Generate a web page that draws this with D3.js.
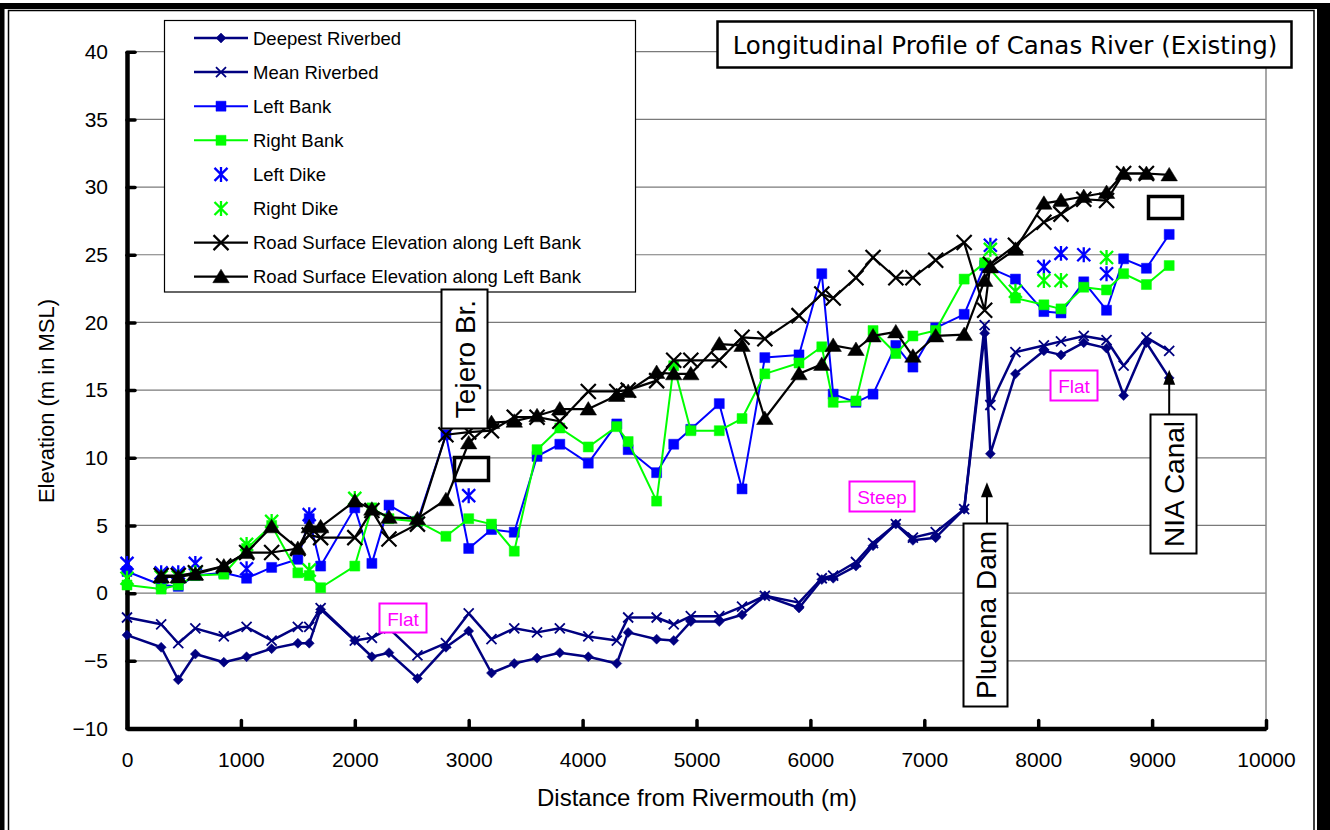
<!DOCTYPE html>
<html>
<head>
<meta charset="utf-8">
<script src="https://cdn.jsdelivr.net/npm/d3@7"></script>
<style>
  body { margin: 0; background: #fff; }
  svg text { font-family: "Liberation Sans", Arial, sans-serif; }
</style>
</head>
<body>
<script>
// stations (m from rivermouth) and elevations (m in MSL); null = no reading
var stations = [0, 300, 450, 600, 850, 1050, 1270, 1500, 1600, 1700, 2000, 2150, 2300, 2550, 2800, 3000,
  3200, 3400, 3600, 3800, 4050, 4300, 4400, 4650, 4800, 4950, 5200, 5400, 5600, 5900, 6100, 6200,
  6400, 6550, 6750, 6900, 7100, 7350, 7530, 7580, 7800, 8050, 8200, 8400, 8600, 8750, 8950, 9150];

var deepest = [-3.1, -4.0, -6.4, -4.5, -5.1, -4.7, -4.1, -3.7, -3.7, -1.2, -3.5, -4.7, -4.4, -6.3, -4.0, -2.8,
  -5.9, -5.2, -4.8, -4.4, -4.7, -5.2, -2.9, -3.4, -3.5, -2.1, -2.1, -1.6, -0.2, -1.1, 1.0, 1.1,
  2.0, 3.5, 5.1, 3.9, 4.1, 6.2, 19.2, 10.3, 16.2, 17.9, 17.6, 18.5, 18.1, 14.6, 18.5, 15.9];

var meanBed = [-1.8, -2.3, -3.7, -2.6, -3.2, -2.5, -3.5, -2.5, -2.5, -1.1, -3.5, -3.3, -2.6, -4.6, -3.7, -1.5,
  -3.4, -2.6, -2.9, -2.6, -3.2, -3.5, -1.8, -1.8, -2.3, -1.7, -1.7, -1.0, -0.2, -0.7, 1.1, 1.3,
  2.3, 3.7, 5.1, 4.1, 4.5, 6.2, 19.8, 13.9, 17.8, 18.3, 18.6, 19.0, 18.7, 16.8, 18.9, 17.9];

var leftBank = [1.6, 0.6, 0.5, 1.3, 1.5, 1.1, 1.9, 2.5, 5.5, 2.0, 6.3, 2.2, 6.5, 5.3, 11.7, 3.3,
  4.7, 4.5, 10.1, 11.0, 9.6, 12.5, 10.6, 8.9, 11.0, 12.1, 14.0, 7.7, 17.4, 17.6, 23.6, 14.7,
  14.1, 14.7, 18.3, 16.7, 19.6, 20.6, 24.2, null, 23.2, 20.8, 20.7, 23.0, 20.9, 24.7, 24.0, 26.5];

var rightBank = [0.6, 0.3, 0.6, 1.3, 1.4, 3.3, 5.0, 1.5, 1.3, 0.4, 2.0, 6.3, 5.5, 5.3, 4.2, 5.5,
  5.1, 3.1, 10.6, 12.2, 10.8, 12.3, 11.2, 6.8, 16.8, 12.0, 12.0, 12.9, 16.2, 17.0, 18.2, 14.1,
  14.2, 19.4, 17.7, 19.0, 19.4, 23.2, 24.4, null, 21.8, 21.3, 21.0, 22.6, 22.4, 23.6, 22.8, 24.2];

var leftDike = [2.2, 1.5, 1.5, 2.2, null, 1.8, null, null, 5.8, null, null, null, null, null, null, 7.2,
  null, null, null, null, null, null, null, null, null, null, null, null, null, null, null, null,
  null, null, null, null, null, null, null, 25.7, null, 24.1, 25.1, 25.0, 23.6, null, null, null];

var rightDike = [1.1, 1.2, 1.2, 1.5, null, 3.6, 5.3, null, 1.7, null, 7.0, null, null, null, null, null,
  null, null, null, null, null, null, null, null, null, null, null, null, null, null, null, null,
  null, null, null, null, null, null, null, 25.4, 22.3, 23.1, 23.1, null, 24.8, null, null, null];

var roadX = [null, 1.3, 1.3, 1.5, 2.0, 3.0, 3.0, 3.3, 4.3, 4.1, 4.1, 6.1, 4.0, 5.1, 11.7, 11.9,
  12.0, 13.0, 13.0, 12.7, 14.9, 14.9, 15.0, 15.7, 17.2, 17.2, 17.2, 18.9, 18.8, 20.5, 22.1, 21.8,
  23.3, 24.8, 23.3, 23.3, 24.6, 25.9, 20.9, 24.3, 25.7, 27.4, 28.0, 29.1, 29.0, 31.0, 31.0, null];

var roadTri = [null, 1.2, 1.2, 1.4, 2.0, 3.0, 4.9, 3.3, 4.9, 4.9, 6.8, 6.2, 5.6, 5.5, 6.9, 11.1,
  12.6, 12.7, 13.1, 13.6, 13.6, 14.6, 14.9, 16.3, 16.2, 16.2, 18.4, 18.3, 12.9, 16.2, 16.9, 18.3,
  18.0, 19.0, 19.3, 17.5, 19.0, 19.1, 23.1, 24.1, 25.4, 28.8, 29.0, 29.3, 29.6, 31.0, 31.0, 30.9];

var xTicks = [0, 1000, 2000, 3000, 4000, 5000, 6000, 7000, 8000, 9000, 10000];
var yTicks = [-10, -5, 0, 5, 10, 15, 20, 25, 30, 35, 40];

var series = [
  {name: 'Deepest Riverbed', values: deepest, color: '#000080', line: true, marker: 'diamond', size: 5, fill: true, lw: 2.5},
  {name: 'Mean Riverbed', values: meanBed, color: '#000080', line: true, marker: 'x', size: 5, fill: false, lw: 2.5, mw: 1.8},
  {name: 'Left Bank', values: leftBank, color: '#0000ff', line: true, marker: 'square', size: 5, fill: true, lw: 2},
  {name: 'Right Bank', values: rightBank, color: '#00ff00', line: true, marker: 'square', size: 5, fill: true, lw: 2},
  {name: 'Left Dike', values: leftDike, color: '#0000ff', line: false, marker: 'star', size: 6.5, fill: false, mw: 2.3},
  {name: 'Right Dike', values: rightDike, color: '#00ff00', line: false, marker: 'star', size: 6.5, fill: false, mw: 2.3},
  {name: 'Road Surface Elevation along Left Bank', values: roadX, color: '#000', line: true, marker: 'x', size: 7.5, fill: false, lw: 2.2, mw: 2.2},
  {name: 'Road Surface Elevation along Left Bank', values: roadTri, color: '#000', line: true, marker: 'triangle', size: 7.5, fill: true, lw: 2.2}
];

function markerPath(type, s) {
  if (type == 'diamond') return 'M0,' + (-s) + 'L' + s + ',0L0,' + s + 'L' + (-s) + ',0Z';
  if (type == 'square') return 'M' + (-s) + ',' + (-s) + 'h' + 2 * s + 'v' + 2 * s + 'h' + (-2 * s) + 'Z';
  if (type == 'triangle') return 'M0,' + (-s) + 'L' + s * 1.1 + ',' + s * 0.8 + 'L' + (-s * 1.1) + ',' + s * 0.8 + 'Z';
  var p = 'M' + (-s) + ',' + (-s) + 'L' + s + ',' + s + 'M' + s + ',' + (-s) + 'L' + (-s) + ',' + s;
  if (type == 'star') p += 'M0,' + (-s * 1.15) + 'V' + s * 1.15;
  return p;
}

function drawMarker(g, d, tx, ty) {
  g.append('path')
    .attr('d', markerPath(d.marker, d.size))
    .attr('transform', 'translate(' + tx + ',' + ty + ')')
    .style('fill', d.fill ? d.color : 'none')
    .style('stroke', d.color)
    .style('stroke-width', d.fill ? 0.5 : d.mw);
}

var svg = d3.select('body').append('svg')
  .attr('width', 1330).attr('height', 830);

svg.append('rect').attr('width', 1330).attr('height', 830).style('fill', '#fff');

var x = d3.scaleLinear().domain([0, 10000]).range([127, 1266]);
var y = d3.scaleLinear().domain([-10, 40]).range([728.5, 51.7]);

// outer frame
svg.append('rect').attr('x', 0).attr('y', 3).attr('width', 4.5).attr('height', 830).style('fill', '#000');
svg.append('rect').attr('x', 0).attr('y', 3).attr('width', 1330).attr('height', 6).style('fill', '#000');
svg.append('rect').attr('x', 1317).attr('y', 3).attr('width', 13).attr('height', 830).style('fill', '#000');
svg.append('rect').attr('x', 8.5).attr('y', 10.5).attr('width', 1305.5).attr('height', 900)
  .style('fill', 'none').style('stroke', '#000').style('stroke-width', 1.5);

// gridlines
svg.append('g').selectAll('line')
  .data(yTicks.filter(function(t) { return t > -10; }))
  .enter().append('line')
  .attr('x1', x(0)).attr('x2', x(10000))
  .attr('y1', function(d) { return y(d); }).attr('y2', function(d) { return y(d); })
  .style('stroke', '#7a7a7a').style('stroke-width', 1.2);

svg.append('line')
  .attr('x1', x(10000)).attr('x2', x(10000)).attr('y1', y(40)).attr('y2', y(-10))
  .style('stroke', '#8a8a8a').style('stroke-width', 1.5);

// axes
var yAxis = svg.append('g').attr('transform', 'translate(' + x(0) + ',0)')
  .call(d3.axisLeft(y).tickValues(yTicks).tickSizeInner(-8).tickSizeOuter(0).tickPadding(19)
    .tickFormat(function(d) { return d < 0 ? '\u2212' + Math.abs(d) : d; }));
var xAxis = svg.append('g').attr('transform', 'translate(0,' + y(-10) + ')')
  .call(d3.axisBottom(x).tickValues(xTicks).tickSizeInner(-8).tickSizeOuter(0).tickPadding(24)
    .tickFormat(d3.format('d')));

[yAxis, xAxis].forEach(function(a) {
  a.select('.domain').style('stroke', '#000').style('stroke-width', 4.5);
  a.selectAll('.tick line').style('stroke', '#000').style('stroke-width', 3.5).style('stroke-linecap', 'round');
  a.selectAll('.tick text').style('font-size', '21px').style('fill', '#000')
    .style('font-family', '"Liberation Sans", Arial, sans-serif');
});

svg.append('text')
  .attr('transform', 'translate(46,' + 401 + ') rotate(-90)')
  .attr('text-anchor', 'middle').attr('dominant-baseline', 'central')
  .style('font-size', '22px').text('Elevation (m in MSL)');

svg.append('text')
  .attr('x', 697).attr('y', 806).attr('text-anchor', 'middle')
  .style('font-size', '24px').text('Distance from Rivermouth (m)');

// series
var lineGen = d3.line()
  .x(function(p) { return x(p[0]); })
  .y(function(p) { return y(p[1]); });

series.forEach(function(s) {
  var pts = [];
  stations.forEach(function(st, i) {
    if (s.values[i] != null) pts.push([st, s.values[i]]);
  });
  var g = svg.append('g');
  if (s.line) {
    g.append('path').datum(pts).attr('d', lineGen)
      .style('fill', 'none').style('stroke', s.color).style('stroke-width', s.lw)
      .style('stroke-linejoin', 'round');
  }
  pts.forEach(function(p) { drawMarker(g, s, x(p[0]), y(p[1])); });
});

// legend
var legend = svg.append('g');
legend.append('rect').attr('x', 164.5).attr('y', 20.5).attr('width', 471).attr('height', 271.5)
  .style('fill', '#fff').style('stroke', '#000').style('stroke-width', 1.2);
series.forEach(function(s, i) {
  var ly = 38 + i * 34.1;
  if (s.line) {
    legend.append('line').attr('x1', 194).attr('x2', 248).attr('y1', ly).attr('y2', ly)
      .style('stroke', s.color).style('stroke-width', s.lw);
  }
  drawMarker(legend, s, 221, ly);
  legend.append('text').attr('x', 253).attr('y', ly).attr('dominant-baseline', 'central')
    .style('font-size', '18.5px').text(s.name);
});

// annotations
function textBox(bx, by, bw, bh, label) {
  svg.append('rect').attr('x', bx).attr('y', by).attr('width', bw).attr('height', bh)
    .style('fill', '#fff').style('stroke', '#000').style('stroke-width', 2);
  svg.append('text')
    .attr('transform', 'translate(' + (bx + bw / 2 + 1) + ',' + (by + bh / 2) + ') rotate(-90)')
    .attr('text-anchor', 'middle').attr('dominant-baseline', 'central')
    .style('font-size', '28px').text(label);
}
function arrowUp(ax, y0, tipY) {
  svg.append('line').attr('x1', ax).attr('x2', ax).attr('y1', y0).attr('y2', tipY + 12)
    .style('stroke', '#000').style('stroke-width', 2);
  svg.append('path').attr('d', 'M' + ax + ',' + tipY + 'L' + (ax + 6) + ',' + (tipY + 15) + 'L' + (ax - 6) + ',' + (tipY + 15) + 'Z')
    .style('fill', '#000');
}
function emptyBox(bx, by, bw, bh) {
  svg.append('rect').attr('x', bx).attr('y', by).attr('width', bw).attr('height', bh)
    .style('fill', 'none').style('stroke', '#000').style('stroke-width', 3.5);
}
function noteBox(bx, by, bw, bh, label) {
  svg.append('rect').attr('x', bx).attr('y', by).attr('width', bw).attr('height', bh)
    .style('fill', '#fff').style('stroke', '#ff00ff').style('stroke-width', 2);
  svg.append('text').attr('x', bx + bw / 2).attr('y', by + bh / 2 + 1)
    .attr('text-anchor', 'middle').attr('dominant-baseline', 'central')
    .style('font-size', '19px').style('fill', '#ff00ff').text(label);
}

textBox(441.5, 289.5, 46, 139, 'Tejero Br.');
emptyBox(454.5, 457.5, 34, 23);
emptyBox(1148.5, 196.5, 34, 22);

arrowUp(x(7550), 523, y(8.2));
textBox(963.5, 523.5, 44, 183, 'Plucena Dam');

arrowUp(x(9150), 414, y(16.5));
textBox(1150.5, 414.5, 46, 139, 'NIA Canal');

noteBox(379.5, 603.5, 47, 29, 'Flat');
noteBox(1050.5, 370.5, 47, 30, 'Flat');
noteBox(849.5, 481.5, 65, 30, 'Steep');

// title
svg.append('rect').attr('x', 717.5).attr('y', 21.5).attr('width', 574).attr('height', 46)
  .style('fill', '#fff').style('stroke', '#000').style('stroke-width', 2.5);
svg.append('text').attr('x', 1005).attr('y', 45).attr('text-anchor', 'middle')
  .attr('dominant-baseline', 'central')
  .style('font-family', '"DejaVu Sans", sans-serif').style('font-size', '24.5px')
  .text('Longitudinal Profile of Canas River (Existing)');
</script>
</body>
</html>
